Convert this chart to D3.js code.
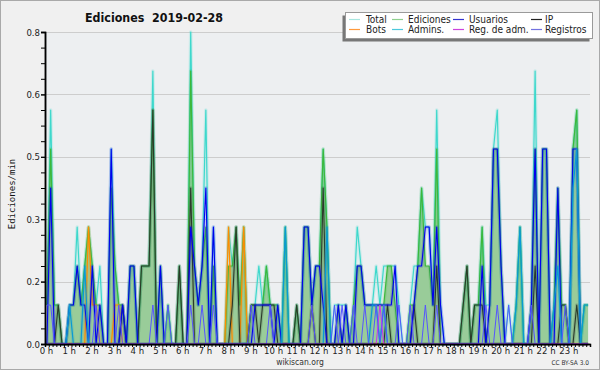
<!DOCTYPE html>
<html>
<head>
<meta charset="utf-8">
<script src="https://cdn.jsdelivr.net/npm/d3@7"></script>
<style>
  body { margin: 0; background: #f0f0f0; }
  svg { display: block; }
  text { font-family: "DejaVu Sans Condensed", "DejaVu Sans", sans-serif; }
</style>
</head>
<body>
<div id="vis"></div>
<script>
// ediciones por intervalo de 10 minutos, 144 intervalos (0 h - 24 h)
// cada fila = 2 horas
const total = [
  1,6,1,1,0,0,1,1,3,1,2,3,
  2,1,2,0,0,5,2,1,1,0,2,2,
  0,2,2,2,7,0,2,0,1,0,0,2,
  0,0,8,2,1,2,6,0,3,0,0,0,
  3,2,3,1,3,0,1,1,2,1,2,1,
  1,1,0,3,0,0,1,0,3,3,1,2,
  2,5,3,0,1,1,1,1,0,1,3,2,
  1,1,1,2,1,2,2,2,2,1,0,0,
  1,2,2,4,3,3,1,6,1,0,0,0,
  0,0,1,2,0,1,1,3,1,1,5,6,
  2,0,1,0,1,3,0,0,1,7,0,5,
  5,0,1,4,1,1,0,5,6,0,1,1
]
const ediciones = [
  1,5,1,1,0,0,1,1,2,1,2,3,
  2,1,1,0,0,4,2,1,1,0,2,2,
  0,2,2,2,6,0,2,0,1,0,0,2,
  0,0,7,2,1,2,3,0,2,0,0,0,
  2,2,3,1,3,0,1,1,1,1,2,1,
  1,1,0,3,0,0,1,0,3,3,1,2,
  2,5,3,0,0,1,0,1,0,1,2,2,
  1,1,1,1,1,1,2,2,1,0,0,0,
  1,1,2,4,2,2,1,5,0,0,0,0,
  0,0,1,2,0,1,1,3,0,1,5,5,
  2,0,0,0,1,3,0,0,1,5,0,5,
  5,0,1,4,1,1,0,5,6,0,1,1
]
const usuarios = [
  0,4,0,0,0,0,1,1,2,1,1,0,
  2,0,1,0,0,5,0,0,1,0,2,2,
  0,0,0,0,0,0,2,0,0,0,0,0,
  0,0,3,2,1,2,4,0,3,0,0,0,
  0,0,0,0,0,0,0,1,1,1,1,1,
  0,1,0,0,0,0,0,0,3,3,1,2,
  2,1,0,0,0,1,0,1,0,0,2,2,
  1,1,1,1,1,1,1,1,2,0,0,0,
  0,1,2,2,3,3,1,3,1,0,0,0,
  0,0,0,0,0,0,0,2,0,1,5,5,
  2,0,0,0,0,0,0,0,1,5,0,5,
  5,0,0,4,0,0,0,5,5,0,0,0
]
const ip = [
  0,0,0,1,0,0,0,0,0,0,0,0,
  0,0,0,0,0,0,0,0,1,0,0,0,
  0,2,2,2,6,0,0,0,0,0,0,2,
  0,0,4,0,0,0,0,0,0,0,0,0,
  0,1,3,0,0,0,1,1,0,1,1,1,
  1,0,0,0,0,0,1,0,0,0,1,0,
  0,4,0,0,0,0,0,0,0,0,0,0,
  0,0,0,0,0,0,1,0,0,0,0,0,
  0,1,0,0,0,0,0,2,0,0,0,0,
  0,0,1,2,0,1,1,1,0,0,0,0,
  0,0,0,0,0,0,0,0,0,2,0,0,
  0,0,0,0,1,1,0,0,1,0,0,0
]
const bots = [
  0,0,0,0,0,0,0,0,0,0,0,3,
  1,1,0,0,0,0,1,1,0,0,0,0,
  0,0,0,0,0,0,0,0,0,0,0,0,
  0,0,0,0,0,0,0,0,0,0,0,0,
  3,0,0,0,3,0,0,0,0,0,0,0,
  0,0,0,0,0,0,0,0,0,0,0,0,
  0,0,0,0,0,0,0,0,0,0,0,0,
  0,0,0,0,0,0,0,0,0,0,0,0,
  0,0,0,0,0,0,0,0,0,0,0,0,
  0,0,0,0,0,0,0,0,0,0,0,0,
  0,0,0,0,0,0,0,0,0,0,0,0,
  0,0,0,0,0,0,0,0,0,0,0,0
]
const admins = [
  0,0,0,0,0,0,1,0,0,0,2,0,
  0,0,0,0,0,0,0,0,0,0,0,0,
  0,0,0,0,0,0,0,0,0,0,0,0,
  0,0,0,0,0,0,0,0,0,0,0,0,
  0,0,0,0,0,0,0,0,0,0,0,0,
  0,0,0,3,0,0,0,0,0,0,0,0,
  0,0,3,0,0,0,0,0,0,0,0,0,
  0,0,1,1,0,1,0,0,0,0,0,0,
  0,0,0,0,0,0,0,0,0,0,0,0,
  0,0,0,0,0,0,0,0,0,0,0,0,
  0,0,0,0,1,3,0,0,0,0,0,0,
  0,0,1,2,0,0,0,4,5,0,1,1
]
const regAdm = [
  0,0,0,0,0,0,0,0,0,0,0,0,
  0,0,0,0,0,0,0,0,0,0,0,0,
  0,0,0,0,0,0,0,0,0,0,0,0,
  0,0,0,0,0,0,0,0,0,0,0,0,
  0,0,0,0,0,0,0,0,0,0,0,0,
  0,0,0,0,0,0,0,0,0,0,0,0,
  0,0,0,0,0,0,0,0,0,0,0,0,
  0,0,0,0,1,0,0,0,0,0,0,0,
  0,0,0,0,0,0,0,0,0,0,0,0,
  0,0,0,0,0,0,0,0,0,0,0,0,
  0,0,0,0,0,0,0,0,0,0,0,0,
  0,0,0,0,0,0,0,0,0,0,0,0
]
const registros = [
  1,1,0,0,0,0,0,0,0,0,0,0,
  0,1,0,0,0,0,0,1,0,0,0,0,
  0,0,0,0,1,0,0,0,1,0,0,0,
  0,0,1,0,0,1,0,0,1,0,0,0,
  0,0,0,0,0,0,1,0,0,0,0,1,
  0,0,0,0,0,0,0,0,0,0,1,0,
  0,0,0,0,1,0,1,0,0,1,0,0,
  1,0,0,1,0,1,0,0,0,1,0,0,
  1,0,0,0,1,0,0,1,0,0,0,0,
  0,0,0,0,0,0,0,0,1,0,0,1,
  0,0,1,0,0,0,0,0,1,0,0,0,
  0,0,0,0,0,1,0,0,0,0,0,0
]

const hourTicks = d3.range(0, 24)
const yTicks = [0, 0.16, 0.32, 0.48, 0.64, 0.8]
const legendRow1 = ['Total', 'Ediciones', 'Usuarios', 'IP']
const legendRow2 = ['Bots', 'Admins.', 'Reg. de adm.', 'Registros']

const BIN_MIN = 10 // minutos por intervalo

let svg = d3.select('#vis')
  .append('svg')
  .attr('width', 600)
  .attr('height', 370)

let x = d3.scaleLinear().domain([0, 24]).range([45, 590])
let y = d3.scaleLinear().domain([0, 0.8]).range([344, 32])

// fondo
svg.append('rect')
  .attr('x', 0.5).attr('y', 0.5)
  .attr('width', 599).attr('height', 369)
  .attr('fill', '#f0f0f0')
  .attr('stroke', '#a9a9a9')
svg.append('rect')
  .attr('x', x(0)).attr('y', y(0.8))
  .attr('width', x(24) - x(0)).attr('height', y(0) - y(0.8))
  .attr('fill', '#edeff1')

// rejilla
svg.append('g')
  .selectAll('line')
  .data(yTicks.filter(d => d > 0))
  .join('line')
  .attr('x1', x(0)).attr('x2', x(24))
  .attr('y1', d => Math.round(y(d)) + 0.5)
  .attr('y2', d => Math.round(y(d)) + 0.5)
  .attr('stroke', '#cdcdcd')

let px = (d, i) => x((i + 0.5) / 6)
let py = d => y(d / BIN_MIN)

let line = d3.line().x(px).y(py)
let area = d3.area().x(px).y0(y(0)).y1(py)

svg.append('path')
  .attr('d', area(ediciones))
  .attr('fill', '#99cc99')

function drawLine(data, color, width, halo) {
  if (halo) {
    svg.append('path')
      .attr('d', line(data))
      .attr('fill', 'none')
      .attr('stroke', color)
      .attr('stroke-width', 3.5)
      .attr('stroke-opacity', 0.18)
      .attr('stroke-linejoin', 'round')
  }
  svg.append('path')
    .attr('d', line(data))
    .attr('fill', 'none')
    .attr('stroke', color)
    .attr('stroke-width', width)
    .attr('stroke-linejoin', 'round')
}

drawLine(total, '#3ed8cc', 1.2, true)
drawLine(ediciones, '#3cb83c', 1.2, true)
drawLine(bots, '#ff8c00', 1.2, true)
drawLine(ip, '#2a3a2a', 1.1, true)
drawLine(usuarios, '#0000ee', 1.1, true)
drawLine(admins, '#0a9ad4', 1.2, true)
drawLine(registros, '#5555ff', 1, false)
drawLine(regAdm, '#cc33ee', 1, false)

// ejes
let yAxis = svg.append('g')
  .attr('transform', 'translate(' + x(0) + ',0)')
  .call(d3.axisLeft(y).tickValues(yTicks).tickFormat(d3.format('.1f')).tickSize(4))
yAxis.append('g')
  .call(d3.axisLeft(y).tickValues(d3.range(0, 0.81, 0.04)).tickFormat('').tickSize(4))
yAxis.selectAll('.domain').attr('stroke', '#000').attr('stroke-width', 1.5)
yAxis.selectAll('text')
  .attr('font-size', '9.5px')
  .attr('fill', '#222')
  .attr('x', -5)

let xAxis = svg.append('g')
  .attr('transform', 'translate(0,' + y(0) + ')')
  .call(d3.axisBottom(x).tickValues(hourTicks).tickFormat(d => d + ' h').tickSize(0))
xAxis.append('g')
  .call(d3.axisBottom(x).tickValues(d3.range(0, 144).map(i => i / 6)).tickFormat('').tickSize(3))
xAxis.selectAll('.domain').attr('stroke', '#000').attr('stroke-width', 1.5)
xAxis.selectAll('text')
  .attr('font-size', '9.5px')
  .attr('fill', '#222')
  .attr('y', 3)
  .attr('dx', 1)

// textos
svg.append('text')
  .attr('x', 85).attr('y', 22)
  .attr('font-size', '12.5px')
  .attr('font-weight', 'bold')
  .attr('fill', '#111')
  .style('white-space', 'pre')
  .attr('textLength', 138)
  .attr('lengthAdjust', 'spacingAndGlyphs')
  .text('Ediciones  2019-02-28')

svg.append('text')
  .attr('transform', 'translate(15,194) rotate(-90)')
  .attr('text-anchor', 'middle')
  .style('font-family', '"DejaVu Sans Mono", monospace')
  .attr('font-size', '9px')
  .attr('fill', '#111')
  .text('Ediciones/min')

svg.append('text')
  .attr('x', 300).attr('y', 365)
  .attr('text-anchor', 'middle')
  .attr('font-size', '8.5px')
  .attr('fill', '#333')
  .text('wikiscan.org')

svg.append('text')
  .attr('x', 589).attr('y', 365)
  .attr('text-anchor', 'end')
  .attr('font-size', '6.5px')
  .attr('fill', '#333')
  .text('CC BY-SA 3.0')

// leyenda
let legendColors1 = ['#a8e6e0', '#8fd08f', '#3434d0', '#222222']
let legendColors2 = ['#ff9a3c', '#4cc8dc', '#cc44dd', '#7272e0']
let lineX = [349, 392, 453, 531]
let textX = [366, 408, 469, 545]

let legend = svg.append('g')
legend.append('rect')
  .attr('x', 342.5).attr('y', 15.5)
  .attr('width', 247).attr('height', 26)
  .attr('fill', '#777')
legend.append('rect')
  .attr('x', 345.5).attr('y', 12.5)
  .attr('width', 247).attr('height', 26)
  .attr('fill', '#fff')
  .attr('stroke', '#9a9a9a')

function legendRow(names, colors, yy) {
  names.forEach((n, i) => {
    legend.append('line')
      .attr('x1', lineX[i]).attr('x2', lineX[i] + 11)
      .attr('y1', yy - 3.5).attr('y2', yy - 3.5)
      .attr('stroke', colors[i])
      .attr('stroke-width', 1.2)
    legend.append('text')
      .attr('x', textX[i]).attr('y', yy)
      .attr('font-size', '10px')
      .attr('fill', '#222')
      .text(n)
  })
}
legendRow(legendRow1, legendColors1, 23)
legendRow(legendRow2, legendColors2, 33)
</script>
</body>
</html>
